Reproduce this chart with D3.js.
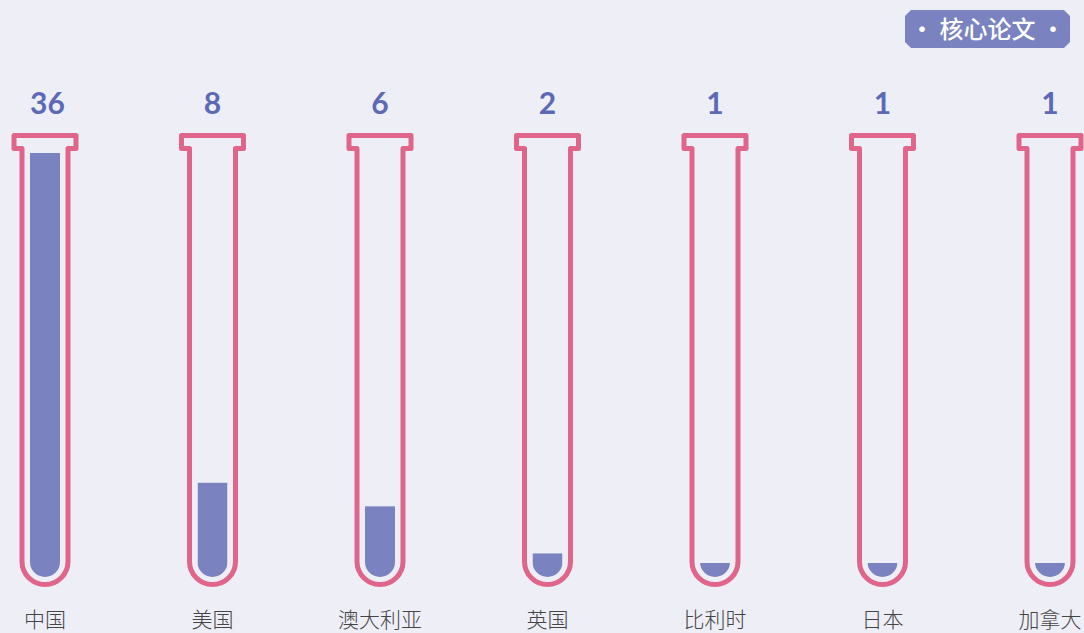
<!DOCTYPE html>
<html>
<head>
<meta charset="utf-8">
<script src="https://cdn.jsdelivr.net/npm/d3@7"></script>
<style>
  html, body { margin: 0; padding: 0; background: #eeeef6; overflow: hidden; }
</style>
</head>
<body>
<div id="chart"></div>
<script>
// chart data
const countries = ['中国', '美国', '澳大利亚', '英国', '比利时', '日本', '加拿大'];
const paperCounts = [36, 8, 6, 2, 1, 1, 1];
const badgeText = '· 核心论文 ·';

const width = 1084;
const height = 633;

const tubeColor = '#e0658b';
const fillColor = '#7b82c0';
const valueColor = '#5c69b6';

const svg = d3.select('#chart').append('svg')
    .attr('width', width)
    .attr('height', height);

svg.append('rect')
    .attr('width', width)
    .attr('height', height)
    .attr('fill', '#eeeef6');

const x = d3.scalePoint()
    .domain(countries)
    .range([45, 1050]);

const fillBottom = 577;
const y = d3.scaleLinear()
    .domain([0, 36])
    .range([fillBottom, 153]);

// tube outline (stroke centerline)
function tubePath(cx) {
    const fw = 31, bw = 23, top = 135.5, lip = 148.5, r = 23, bottom = 584.5;
    const p = d3.path();
    p.moveTo(cx - bw, bottom - r);
    p.lineTo(cx - bw, lip);
    p.lineTo(cx - fw, lip);
    p.lineTo(cx - fw, top);
    p.lineTo(cx + fw, top);
    p.lineTo(cx + fw, lip);
    p.lineTo(cx + bw, lip);
    p.lineTo(cx + bw, bottom - r);
    p.arc(cx, bottom - r, r, 0, Math.PI, false);
    p.closePath();
    return p.toString();
}

// inner shape used to clip the liquid
function innerPath(cx) {
    const hw = 15, r = 15;
    const p = d3.path();
    p.moveTo(cx - hw, 140);
    p.lineTo(cx + hw, 140);
    p.lineTo(cx + hw, fillBottom - r);
    p.arc(cx, fillBottom - r, r, 0, Math.PI, false);
    p.closePath();
    return p.toString();
}

const defs = svg.append('defs');
countries.forEach((c, i) => {
    defs.append('clipPath')
        .attr('id', 'clip' + i)
        .append('path')
        .attr('d', innerPath(x(c)));
});

const tubes = svg.selectAll('g.tube')
    .data(countries.map((c, i) => ({ name: c, value: paperCounts[i], i: i })))
    .enter().append('g')
    .attr('class', 'tube');

tubes.append('rect')
    .attr('clip-path', d => `url(#clip${d.i})`)
    .attr('x', d => x(d.name) - 15)
    .attr('y', d => Math.min(y(d.value), fillBottom - 14))
    .attr('width', 30)
    .attr('height', d => fillBottom - Math.min(y(d.value), fillBottom - 14))
    .attr('fill', fillColor);

tubes.append('path')
    .attr('d', d => tubePath(x(d.name)))
    .attr('fill', 'none')
    .attr('stroke', tubeColor)
    .attr('stroke-width', 5)
    .attr('stroke-linejoin', 'round');

tubes.append('text')
    .attr('x', d => x(d.name) + (d.value >= 10 ? 2.5 : 0))
    .attr('y', 114)
    .attr('text-anchor', 'middle')
    .attr('font-family', 'Lato, sans-serif')
    .attr('font-weight', 'bold')
    .attr('font-size', 30)
    .attr('fill', valueColor)
    .text(d => d.value);

tubes.append('text')
    .attr('x', d => x(d.name))
    .attr('y', 627)
    .attr('text-anchor', 'middle')
    .attr('font-family', '"Noto Sans CJK SC", sans-serif')
    .attr('font-weight', 300)
    .attr('font-size', 21)
    .attr('fill', '#444')
    .text(d => d.name);

// badge top right
const bx0 = 905, bx1 = 1070, by0 = 10, by1 = 48, cut = 6;
svg.append('polygon')
    .attr('points', [
        [bx0 + cut, by0], [bx1 - cut, by0], [bx1, by0 + cut], [bx1, by1 - cut],
        [bx1 - cut, by1], [bx0 + cut, by1], [bx0, by1 - cut], [bx0, by0 + cut]
    ].map(p => p.join(',')).join(' '))
    .attr('fill', fillColor);

svg.append('text')
    .attr('x', (bx0 + bx1) / 2)
    .attr('y', 38)
    .attr('text-anchor', 'middle')
    .attr('font-family', '"Noto Sans CJK SC", sans-serif')
    .attr('font-weight', 500)
    .attr('font-size', 24)
    .attr('fill', '#fff')
    .text(badgeText);
</script>
</body>
</html>
